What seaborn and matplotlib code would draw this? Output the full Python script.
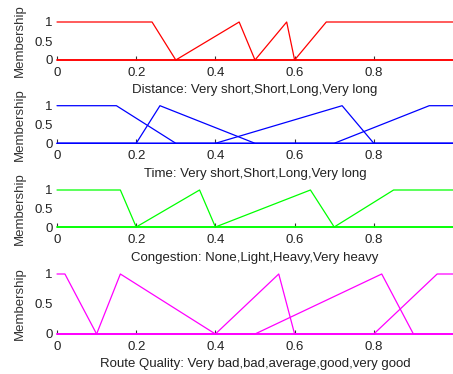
import numpy as np
import pandas as pd
import matplotlib
matplotlib.use("Agg")
import matplotlib.pyplot as plt
import seaborn as sns

# Membership function parameters [a, b, c, d] (trapezoid; triangle when b == c)
distance_mfs = [[0, 0, 0.24, 0.30], [0.30, 0.46, 0.46, 0.50],
                [0.50, 0.58, 0.58, 0.60], [0.60, 0.68, 1, 1]]
time_mfs = [[0, 0, 0.15, 0.30], [0.20, 0.26, 0.26, 0.50],
            [0.40, 0.72, 0.72, 0.80], [0.70, 0.94, 1, 1]]
congestion_mfs = [[0, 0, 0.16, 0.20], [0.20, 0.36, 0.36, 0.40],
                  [0.40, 0.64, 0.64, 0.70], [0.70, 0.85, 1, 1]]
quality_mfs = [[0, 0, 0.02, 0.10], [0.10, 0.16, 0.16, 0.40],
               [0.40, 0.56, 0.56, 0.60], [0.50, 0.82, 0.82, 0.90],
               [0.80, 0.96, 1, 1]]

titles = ["Distance: Very short,Short,Long,Very long",
          "Time: Very short,Short,Long,Very long",
          "Congestion: None,Light,Heavy,Very heavy",
          "Route Quality: Very bad,bad,average,good,very good"]
colors = ["#ff0000", "#0000ff", "#00ff00", "#ff00ff"]
x_ticks = [0, 0.2, 0.4, 0.6, 0.8]
y_ticks = [0, 0.5, 1]


def polyline(p):
    a, b, c, d = p
    xs, ys = [], []
    if a > 0:
        xs.append(0); ys.append(0)
    if b > a:
        xs.append(a); ys.append(0)
    xs.append(b); ys.append(1)
    xs.append(c); ys.append(1)
    if d > c:
        xs.append(d); ys.append(0)
    if d < 1:
        xs.append(1); ys.append(0)
    return xs, ys


sns.set_style("white")
plt.rcParams['font.family'] = ['Liberation Sans', 'DejaVu Sans']

fig = plt.figure(figsize=(4.53, 3.74), dpi=100)
H = 374.0
W = 453.0
boxes = [(22, 60), (105.7, 143.3), (190, 227), (274, 334)]
left = 57 / W
width = 396 / W

for (top, bot), mfs, title, col in zip(boxes, [distance_mfs, time_mfs, congestion_mfs, quality_mfs], titles, colors):
    ax = fig.add_axes([left, (H - bot) / H, width, (bot - top) / H])
    for p in mfs:
        xs, ys = polyline(p)
        df = pd.DataFrame({"x": xs, "y": ys})
        sns.lineplot(data=df, x="x", y="y", sort=False, estimator=None,
                     color=col, lw=0.9, ax=ax, clip_on=False)
    ax.set_xlim(0, 1)
    ax.set_ylim(0, 1)
    for s in ax.spines.values():
        s.set_visible(False)
    ax.set_xticks(x_ticks)
    ax.set_xticklabels([f"{t:g}" for t in x_ticks])
    ax.set_yticks(y_ticks)
    ax.set_yticklabels([f"{t:g}" for t in y_ticks])
    ax.tick_params(axis="x", direction="in", length=3, width=0.8, color="#333333",
                   labelsize=9.5, pad=5, bottom=True, labelcolor="#222222")
    ax.tick_params(axis="y", length=0, labelsize=9.5, pad=3, left=False,
                   labelcolor="#222222")
    ax.set_xlabel(title, fontsize=9.5, labelpad=4, color="#222222")
    ax.set_ylabel("Membership", fontsize=9.5, color="#333333")
    ax.yaxis.set_label_coords((26 - 57) / 396, 0.5)

fig.savefig("out.png", dpi=100)
